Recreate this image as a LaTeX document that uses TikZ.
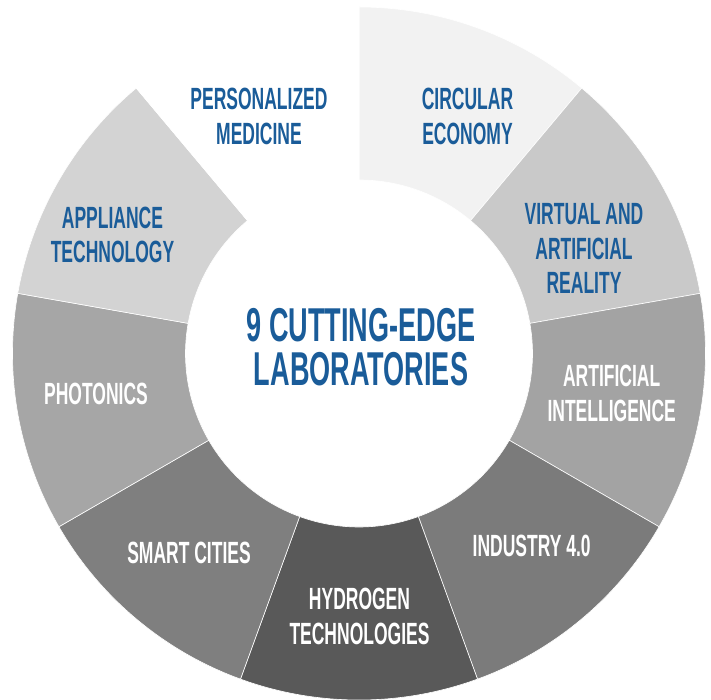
\documentclass[tikz,border=0pt]{standalone}
\usepackage{fontspec}
\newfontfamily\labfont{Liberation Sans}[FakeStretch=0.57]
\definecolor{labblue}{HTML}{1A5C99}

\begin{document}
\begin{tikzpicture}[
		x=1pt, y=1pt,
		seg/.style={draw=white, line width=0.6pt},
		lbl/.style={font=\labfont\bfseries\fontsize{30.7}{34.5}\selectfont, align=center, inner sep=0pt},
		dark/.style={lbl, text=labblue},
		light/.style={lbl, text=white},
		title/.style={font=\labfont\bfseries\fontsize{47.5}{44}\selectfont, align=center, inner sep=0pt, text=labblue},
	]
		\useasboundingbox (-359,-346.5) rectangle (352,353.5);
		% ring segments, clockwise from the top
		\foreach \a/\b/\c in {90/50/F2F2F2, 50/10/C9C9C9, 10/-30/A3A3A3, -30/-70/7B7B7B, -70/-110/595959,
				-110/-150/7F7F7F, -150/-190/A6A6A6, 170/130/D3D3D3, 130/90/FFFFFF} {
			\definecolor{segcol}{HTML}{\c}
			\filldraw[seg, fill=segcol] (\a:346.5) arc[start angle=\a, end angle=\b, radius=346.5]
				-- (\b:173.5) arc[start angle=\b, end angle=\a, radius=173.5] -- cycle;
		}
		
		\node (lab) [title] at (2,6.5) {9 CUTTING-EDGE\\LABORATORIES};
		
		\node (pm) [dark] at (-100,237) {PERSONALIZED\\MEDICINE};
		\node (ce) [dark] at (108.5,237) {CIRCULAR\\ECONOMY};
		\node (vr) [dark] at (225,105) {VIRTUAL AND\\ARTIFICIAL\\REALITY};
		\node (ai) [light] at (252.7,-40) {ARTIFICIAL\\INTELLIGENCE};
		\node (ind) [light] at (172.7,-192.5) {INDUSTRY 4.0};
		\node (hyd) [light] at (0.5,-263) {HYDROGEN\\TECHNOLOGIES};
		\node (sc) [light] at (-170,-199) {SMART CITIES};
		\node (ph) [light] at (-263,-40) {PHOTONICS};
		\node (ap) [dark] at (-246.5,118.5) {APPLIANCE\\TECHNOLOGY};
	\end{tikzpicture}
\end{document}
